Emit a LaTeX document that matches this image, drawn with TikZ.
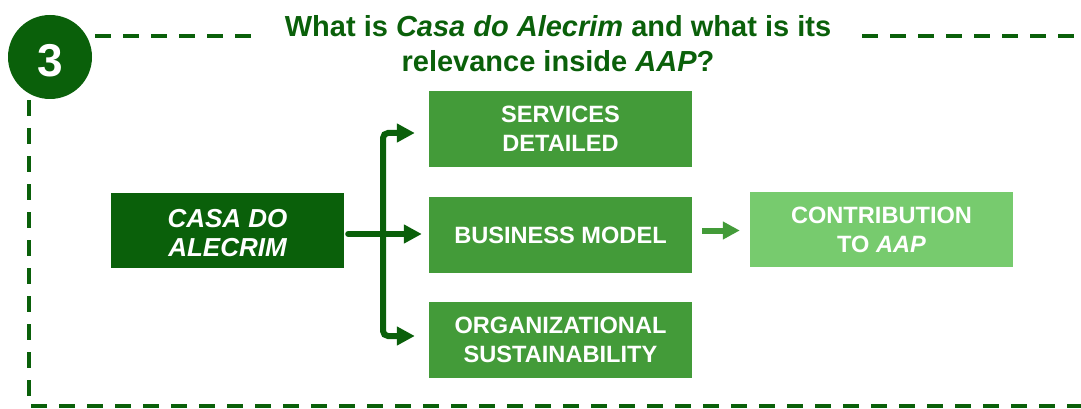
\documentclass[tikz,border=0pt]{standalone}
\usepackage{fontspec}
\setmainfont{Liberation Sans}
\usetikzlibrary{arrows.meta,calc}
\definecolor{dg}{HTML}{0A600A}
\definecolor{mg}{HTML}{439B39}
\definecolor{lg}{HTML}{77CB6E}
\begin{document}
\begin{tikzpicture}[x=1pt,y=-1pt,
  frame/.style={draw=dg, line width=3.5pt, dash pattern=on 16pt off 12pt},
  box/.style={minimum width=263pt, minimum height=76pt, inner sep=0pt, text=white,
    font=\fontsize{23.6}{29}\selectfont\bfseries, align=center},
  arr/.style={draw=dg, line width=6pt, -{Triangle[length=18pt,width=18pt]}},
  arrr/.style={draw=dg, line width=6pt, {Triangle[length=18pt,width=18pt]}-{Triangle[length=18pt,width=18pt]}}
]
\useasboundingbox (0,0) rectangle (1081,409);
\clip (0,0) rectangle (1081,409);

% dashed frame
\draw[frame] (95,36) -- (252,36);
\draw[frame] (862,36) -- (1100,36);
\draw[frame] (29,100) -- (29,406) -- (1100,406);

% number badge
\node[circle, fill=dg, minimum size=84pt, inner sep=0pt, text=white,
  font=\fontsize{46}{46}\selectfont\bfseries] (num) at (50,57)
  {\raisebox{-19.5pt}[0pt][0pt]{3}};

% title
\node[text=dg, font=\fontsize{29}{35}\selectfont\bfseries, align=center, inner sep=0pt]
  (title) at (558,44) {What is \textit{Casa do Alecrim} and what is its\\relevance inside \textit{AAP}?};

% boxes
\node[box, fill=dg, minimum width=233pt, minimum height=75pt,
  font=\fontsize{26}{29}\selectfont\bfseries\itshape] (casa) at (227.5,230.5)
  {\raisebox{-11.5pt}[0pt][0pt]{\begin{tabular}{@{}c@{}}CASA DO\\ALECRIM\end{tabular}}};
\node[box, fill=mg] (sd) at (560.5,129) {SERVICES\\DETAILED};
\node[box, fill=mg] (bm) at (560.5,235) {BUSINESS MODEL};
\node[box, fill=mg] (ob) at (560.5,340) {ORGANIZATIONAL\\SUSTAINABILITY};
\node[box, fill=lg, minimum height=75pt] (cont) at (881.5,229.5) {CONTRIBUTION\\TO \textit{AAP}};

% connectors
\coordinate (fk) at (383,234);
\draw[arr, line cap=round] ([xshift=4pt]casa.east |- fk) -- ([xshift=-7pt]bm.west |- fk);
\draw[arrr, rounded corners=5pt]
  ([xshift=-14pt,yshift=-4pt]sd.west) -- ([yshift=-4pt]sd.west -| fk)
  -- ([yshift=4pt]ob.west -| fk) -- ([xshift=-14pt,yshift=4pt]ob.west);
\coordinate (sm) at (700,230.5);
\draw[arr, draw=mg, -{Triangle[length=17pt,width=17pt]}] ([xshift=10pt]bm.east |- sm) -- ([xshift=-10pt]cont.west |- sm);
\end{tikzpicture}
\end{document}
